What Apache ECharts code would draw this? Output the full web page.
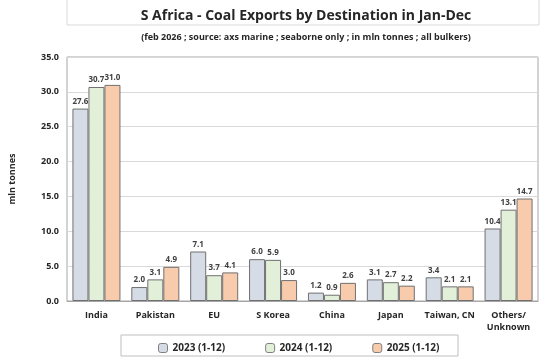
<!DOCTYPE html>
<html><head><meta charset="utf-8">
<script src="https://cdn.jsdelivr.net/npm/echarts@6/dist/echarts.min.js"></script>
<style>html,body{margin:0;padding:0;background:#fff}#c{width:554px;height:364px}</style>
</head><body><div id="c"></div>
<script>
const categories = ['India','Pakistan','EU','S Korea','China','Japan','Taiwan, CN','Others/\nUnknown'];
const seriesNames = ['2023 (1-12)','2024 (1-12)','2025 (1-12)'];
const v2023 = [27.6, 2.0, 7.1, 6.0, 1.2, 3.1, 3.4, 10.4];
const v2024 = [30.7, 3.1, 3.7, 5.9, 0.9, 2.7, 2.1, 13.1];
const v2025 = [31.0, 4.9, 4.1, 3.0, 2.6, 2.2, 2.1, 14.7];
const colors = ['#d6dce6','#e2efd9','#f8cbad'];
const F = 'Open Sans, Liberation Sans, sans-serif';
const chart = echarts.init(document.getElementById('c'));
const mk = (name, data, color) => ({
  name, type:'bar', data, barWidth:16, barGap:'0%',
  itemStyle:{color, borderColor:'#707070', borderWidth:1},
  label:{show:true, position:'top', formatter:p=>p.value.toFixed(1), fontSize:8, fontWeight:'bold', color:'#404040', fontFamily:F, distance:3}
});
chart.setOption({
  animation:false,
  graphic:[
    {type:'rect', shape:{x:67,y:-2,width:472,height:27}, style:{fill:'#fff', stroke:'#d9d9d9', lineWidth:1}},
    {type:'rect', shape:{x:121,y:335,width:337,height:21}, style:{fill:'#fff', stroke:'#bfbfbf', lineWidth:1}, z:-1}
  ],
  title:[
    {text:'S Africa - Coal Exports by Destination in Jan-Dec', left:301, top:4, textAlign:'center',
     textStyle:{fontSize:14, fontWeight:'bold', color:'#262626', fontFamily:F}},
    {text:'(feb 2026 ; source: axs marine ; seaborne only ; in mln tonnes ; all bulkers)', left:301, top:28, textAlign:'center',
     textStyle:{fontSize:9, fontWeight:'bold', color:'#262626', fontFamily:F}}
  ],
  legend:{data:seriesNames, left:153, top:338, itemWidth:9, itemHeight:9, itemGap:40,
    textStyle:{fontSize:10, fontWeight:'bold', color:'#262626', fontFamily:F},
    itemStyle:{borderColor:'#7f7f7f', borderWidth:1}},
  grid:{left:66, right:16, top:57, bottom:63, show:true, borderColor:'#a6a6a6', borderWidth:1},
  xAxis:{type:'category', data:categories,
    axisLine:{lineStyle:{color:'#a6a6a6'}}, axisTick:{show:false},
    axisLabel:{fontSize:9, fontWeight:'bold', color:'#262626', fontFamily:F, margin:8, interval:0, lineHeight:12}},
  yAxis:{type:'value', min:0, max:35, interval:5, name:'mln tonnes', nameLocation:'middle', nameGap:50,
    nameTextStyle:{fontSize:9, fontWeight:'bold', color:'#262626', fontFamily:F},
    axisLabel:{formatter:v=>v.toFixed(1), fontSize:9, fontWeight:'bold', color:'#262626', fontFamily:F, margin:8},
    axisLine:{show:false}, axisTick:{show:false},
    splitLine:{lineStyle:{color:'#d9d9d9'}}},
  series:[mk(seriesNames[0], v2023, colors[0]), mk(seriesNames[1], v2024, colors[1]), mk(seriesNames[2], v2025, colors[2])]
});
</script></body></html>
